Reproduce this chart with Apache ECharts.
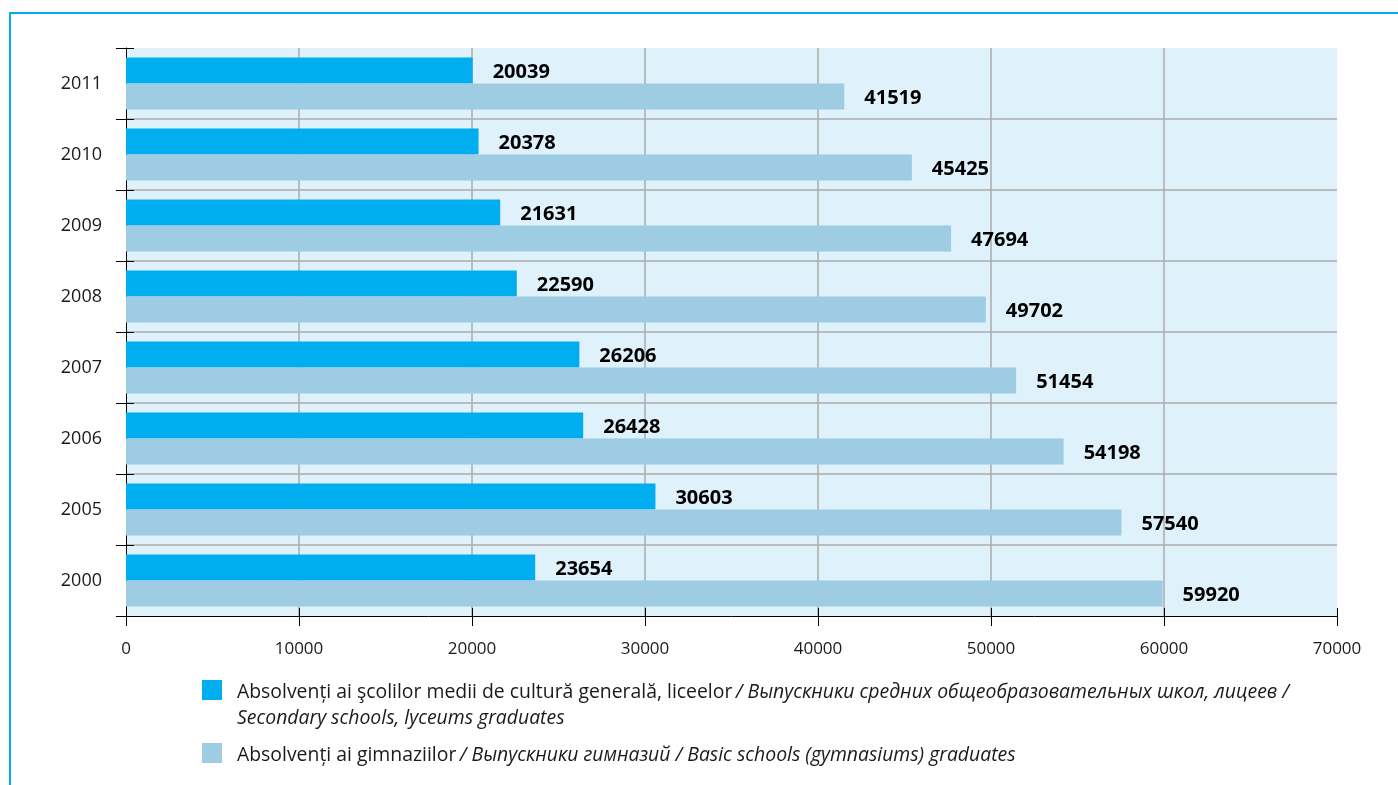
<!DOCTYPE html>
<html>
<head>
<meta charset="utf-8">
<script src="https://cdn.jsdelivr.net/npm/echarts@6/dist/echarts.min.js"></script>
<style>
  html, body { margin: 0; padding: 0; background: #fff; }
  #main { width: 1398px; height: 785px; }
</style>
</head>
<body>
<div id="main"></div>
<script>
// years, bottom to top
const years = ['2000', '2005', '2006', '2007', '2008', '2009', '2010', '2011']
const secondaryGrads = [23654, 30603, 26428, 26206, 22590, 21631, 20378, 20039]
const basicGrads = [59920, 57540, 54198, 51454, 49702, 47694, 45425, 41519]
const xTicks = [0, 10000, 20000, 30000, 40000, 50000, 60000, 70000]

const nameSecondary = 'Absolvenți ai şcolilor medii de cultură generală, liceelor'
const nameBasic = 'Absolvenți ai gimnaziilor'

const font = 'Open Sans'
const textColor = '#1a1a1a'
const darkBlue = '#00aeef'
const lightBlue = '#9dcce3'

let myChart = echarts.init(document.getElementById('main'))

const legendRich = {
    r: { fontFamily: font, fontSize: 19.4, color: textColor, lineHeight: 26 },
    i: { fontFamily: font, fontSize: 19.4, color: textColor, fontStyle: 'italic', lineHeight: 26 }
}

// hide the outermost split lines (edges of the plot area)
let ySplit = years.map(() => '#ababab')
ySplit.push('rgba(0,0,0,0)')
ySplit[0] = 'rgba(0,0,0,0)'
let xSplit = xTicks.map(() => '#ababab')
xSplit[0] = 'rgba(0,0,0,0)'
xSplit[xSplit.length - 1] = 'rgba(0,0,0,0)'

const barLabel = {
    show: true, position: 'right', distance: 20, offset: [0, 2],
    fontFamily: font, fontWeight: 'bold', fontSize: 20, color: '#000'
}

const option = {
    backgroundColor: '#fff',
    animation: false,
    grid: {
        left: 126, right: 61, top: 48, bottom: 169,
        show: true, backgroundColor: '#dff1fb', borderWidth: 0
    },
    legend: [
        {
            left: 197, top: 675,
            itemWidth: 20, itemHeight: 20,
            icon: 'rect',
            data: [nameSecondary],
            formatter: () => '{r|' + nameSecondary + '} {i|/ Выпускники средних общеобразовательных школ, лицеев /}\n{i|Secondary schools, lyceums graduates}',
            textStyle: { padding: [30, 0, 0, 10], rich: legendRich }
        },
        {
            left: 197, top: 738,
            itemWidth: 20, itemHeight: 20,
            icon: 'rect',
            data: [nameBasic],
            formatter: () => '{r|' + nameBasic + '} {i|/ Выпускники гимназий / Basic schools (gymnasiums) graduates}',
            textStyle: { padding: [4, 0, 0, 10], rich: legendRich }
        }
    ],
    xAxis: [
        {
            type: 'value', min: 0, max: 70000, interval: 10000, position: 'bottom',
            axisLine: { show: true, lineStyle: { color: '#000', width: 1 } },
            axisTick: { show: true, length: 10, lineStyle: { color: '#000' } },
            axisLabel: { fontFamily: font, fontSize: 17, color: textColor, margin: 25, formatter: v => String(v) },
            splitLine: { show: true, lineStyle: { color: xSplit, width: 1.5 } }
        },
        {
            type: 'value', min: 0, max: 70000, interval: 10000, position: 'bottom', offset: 0,
            axisLine: { show: false },
            axisTick: { show: true, inside: true, length: 8, lineStyle: { color: '#000' } },
            axisLabel: { show: false },
            splitLine: { show: false }
        }
    ],
    yAxis: [
        {
            type: 'category', data: years, position: 'left',
            axisLine: { show: true, lineStyle: { color: '#000', width: 1 } },
            axisTick: { show: true, length: 10, lineStyle: { color: '#000' } },
            axisLabel: { fontFamily: font, fontSize: 18, color: textColor, margin: 24, padding: [8, 0, 0, 0] },
            splitLine: { show: true, lineStyle: { color: ySplit, width: 1.5 } }
        },
        {
            type: 'category', data: years, position: 'left', offset: 0,
            axisLine: { show: false },
            axisTick: { show: true, inside: true, length: 8, lineStyle: { color: '#000' } },
            axisLabel: { show: false },
            splitLine: { show: false }
        }
    ],
    series: [
        {
            name: nameSecondary,
            type: 'bar',
            xAxisIndex: 0, yAxisIndex: 0,
            data: secondaryGrads,
            barWidth: 26,
            barGap: '0%',
            itemStyle: { color: darkBlue },
            label: barLabel
        },
        {
            name: nameBasic,
            type: 'bar',
            xAxisIndex: 0, yAxisIndex: 0,
            data: basicGrads,
            barWidth: 26,
            barGap: '0%',
            itemStyle: { color: lightBlue },
            label: barLabel
        }
    ],
    graphic: [
        {
            type: 'polyline',
            shape: { points: [[1398, 13], [10, 13], [10, 785]] },
            style: { stroke: '#00aeef', lineWidth: 2, fill: null },
            silent: true
        }
    ]
}

myChart.setOption(option)
</script>
</body>
</html>
